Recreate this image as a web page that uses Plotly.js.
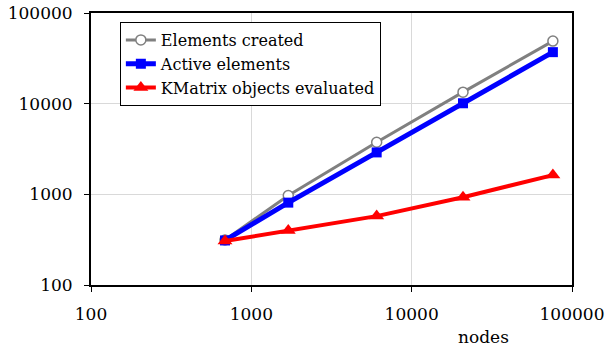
<!DOCTYPE html>
<html>
<head>
<meta charset="utf-8">
<script src="https://cdn.plot.ly/plotly-3.0.1.min.js"></script>
<style>html,body{margin:0;padding:0;background:#fff;}#chart{width:605px;height:352px;}</style>
</head>
<body>
<div id="chart"></div>
<script>
const nodes = [685, 1700, 6050, 20900, 76000];
const elementsCreated = [314, 970, 3750, 13400, 49000];
const activeElements = [310, 810, 2900, 10100, 37000];
const kmatrixEvaluated = [305, 400, 575, 930, 1630];
const seriesNames = ["Elements created", "Active elements", "KMatrix objects evaluated"];
const tickVals = [100, 1000, 10000, 100000];
const tickText = ["100", "1000", "10000", "100000"];
const xTitle = "nodes";

const font = {family: "DejaVu Serif", size: 17, color: "#000"};
const legendFont = {family: "DejaVu Serif", size: 16, color: "#000"};

const traces = [
  {x: nodes, y: elementsCreated, name: seriesNames[0], mode: "lines+markers",
   line: {color: "#808080", width: 3},
   marker: {symbol: "circle", size: 10, color: "#ffffff", line: {color: "#808080", width: 1.5}}},
  {x: nodes, y: activeElements, name: seriesNames[1], mode: "lines+markers",
   line: {color: "#0000ff", width: 5},
   marker: {symbol: "square", size: 10, color: "#0000ff"}},
  {x: nodes, y: kmatrixEvaluated, name: seriesNames[2], mode: "lines+markers",
   line: {color: "#ff0000", width: 4},
   marker: {symbol: "triangle-up", size: 13, color: "#ff0000"}}
];

const axisCommon = {
  type: "log", showline: true, linecolor: "#000", linewidth: 2, mirror: true,
  ticks: "outside", ticklen: 5, tickwidth: 1, tickcolor: "#000",
  showgrid: true, gridcolor: "#d9d9d9", gridwidth: 1, zeroline: false,
  tickvals: tickVals, ticktext: tickText, tickfont: font
};

const layout = {
  width: 605, height: 352,
  margin: {l: 91, r: 33, t: 13, b: 67},
  paper_bgcolor: "#fff", plot_bgcolor: "#fff",
  font: font,
  showlegend: true,
  legend: {x: 0.06, y: 0.967, xanchor: "left", yanchor: "top",
           bordercolor: "#000", borderwidth: 1, bgcolor: "#fff",
           font: legendFont, tracegroupgap: 0, itemwidth: 30},
  xaxis: Object.assign({}, axisCommon, {range: [2, 5], ticklabelstandoff: 8}),
  yaxis: Object.assign({}, axisCommon, {range: [2, 5], ticklabelstandoff: 8}),
  annotations: [{text: xTitle, xref: "paper", yref: "paper", x: 0.815, y: 0, yshift: -52,
                 xanchor: "center", yanchor: "middle", showarrow: false, font: font}]
};

Plotly.newPlot("chart", traces, layout, {displayModeBar: false, staticPlot: true});
</script>
</body>
</html>
